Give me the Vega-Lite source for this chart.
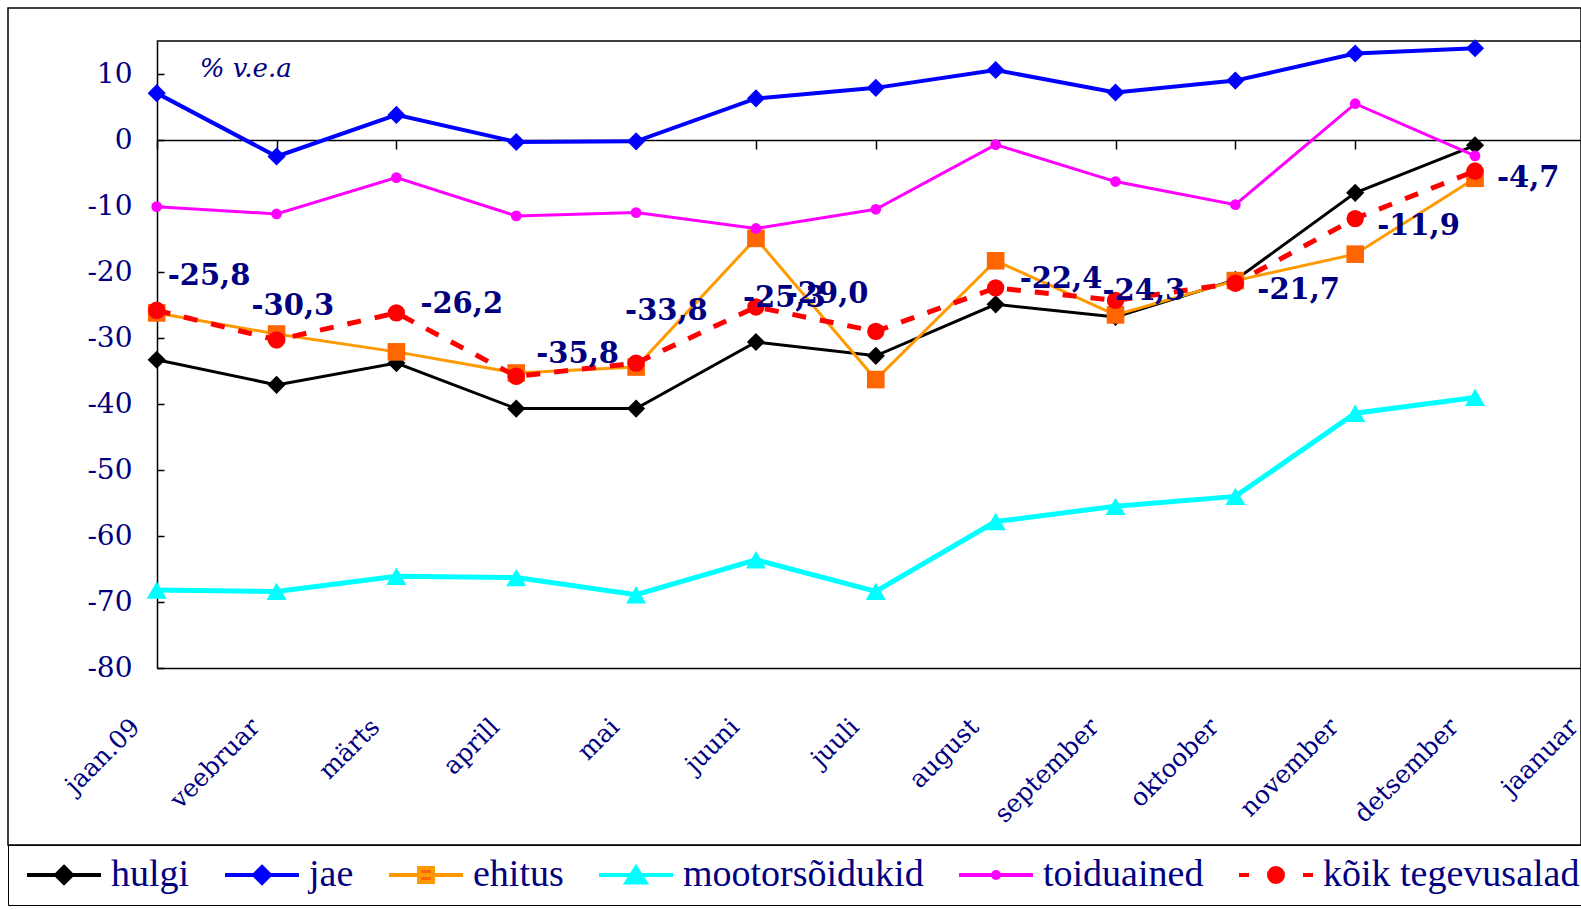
{
  "$schema": "https://vega.github.io/schema/vega-lite/v6.json",
  "usermeta": {"embedOptions": {"actions": false}},
  "width": 1573,
  "height": 837,
  "autosize": {"type": "none"},
  "padding": {"left": 8, "top": 8, "right": 0, "bottom": 65},
  "background": "white",
  "config": {
    "view": {"stroke": "#000000", "strokeWidth": 1.5},
    "locale": {"number": {"decimal": ",", "thousands": " ", "grouping": [3], "currency": ["", " €"], "minus": "-"}},
    "axis": {"grid": false}
  },
  "resolve": {"axis": {"x": "independent", "y": "independent"}},
  "data": {"name": "d"},
  "datasets": {
    "d": [
      {"month": "jaan.09", "series": "hulgi", "value": -33.3},
      {"month": "veebruar", "series": "hulgi", "value": -37.1},
      {"month": "märts", "series": "hulgi", "value": -33.8},
      {"month": "aprill", "series": "hulgi", "value": -40.7},
      {"month": "mai", "series": "hulgi", "value": -40.7},
      {"month": "juuni", "series": "hulgi", "value": -30.6},
      {"month": "juuli", "series": "hulgi", "value": -32.7},
      {"month": "august", "series": "hulgi", "value": -24.9},
      {"month": "september", "series": "hulgi", "value": -26.8},
      {"month": "oktoober", "series": "hulgi", "value": -21.2},
      {"month": "november", "series": "hulgi", "value": -8.0},
      {"month": "detsember", "series": "hulgi", "value": -0.8},
      {"month": "jaan.09", "series": "jae", "value": 7.1},
      {"month": "veebruar", "series": "jae", "value": -2.5},
      {"month": "märts", "series": "jae", "value": 3.8},
      {"month": "aprill", "series": "jae", "value": -0.3},
      {"month": "mai", "series": "jae", "value": -0.2},
      {"month": "juuni", "series": "jae", "value": 6.3},
      {"month": "juuli", "series": "jae", "value": 7.9},
      {"month": "august", "series": "jae", "value": 10.6},
      {"month": "september", "series": "jae", "value": 7.2},
      {"month": "oktoober", "series": "jae", "value": 9.0},
      {"month": "november", "series": "jae", "value": 13.1},
      {"month": "detsember", "series": "jae", "value": 13.9},
      {"month": "jaan.09", "series": "ehitus", "value": -26.2},
      {"month": "veebruar", "series": "ehitus", "value": -29.4},
      {"month": "märts", "series": "ehitus", "value": -32.1},
      {"month": "aprill", "series": "ehitus", "value": -35.3},
      {"month": "mai", "series": "ehitus", "value": -34.4},
      {"month": "juuni", "series": "ehitus", "value": -14.9},
      {"month": "juuli", "series": "ehitus", "value": -36.3},
      {"month": "august", "series": "ehitus", "value": -18.3},
      {"month": "september", "series": "ehitus", "value": -26.5},
      {"month": "oktoober", "series": "ehitus", "value": -21.3},
      {"month": "november", "series": "ehitus", "value": -17.3},
      {"month": "detsember", "series": "ehitus", "value": -5.8},
      {"month": "jaan.09", "series": "mootorsõidukid", "value": -68.2},
      {"month": "veebruar", "series": "mootorsõidukid", "value": -68.4},
      {"month": "märts", "series": "mootorsõidukid", "value": -66.1},
      {"month": "aprill", "series": "mootorsõidukid", "value": -66.3},
      {"month": "mai", "series": "mootorsõidukid", "value": -68.9},
      {"month": "juuni", "series": "mootorsõidukid", "value": -63.6},
      {"month": "juuli", "series": "mootorsõidukid", "value": -68.4},
      {"month": "august", "series": "mootorsõidukid", "value": -57.8},
      {"month": "september", "series": "mootorsõidukid", "value": -55.5},
      {"month": "oktoober", "series": "mootorsõidukid", "value": -54.0},
      {"month": "november", "series": "mootorsõidukid", "value": -41.4},
      {"month": "detsember", "series": "mootorsõidukid", "value": -39.0},
      {"month": "jaan.09", "series": "toiduained", "value": -10.1},
      {"month": "veebruar", "series": "toiduained", "value": -11.2},
      {"month": "märts", "series": "toiduained", "value": -5.7},
      {"month": "aprill", "series": "toiduained", "value": -11.5},
      {"month": "mai", "series": "toiduained", "value": -11.0},
      {"month": "juuni", "series": "toiduained", "value": -13.4},
      {"month": "juuli", "series": "toiduained", "value": -10.5},
      {"month": "august", "series": "toiduained", "value": -0.7},
      {"month": "september", "series": "toiduained", "value": -6.3},
      {"month": "oktoober", "series": "toiduained", "value": -9.8},
      {"month": "november", "series": "toiduained", "value": 5.5},
      {"month": "detsember", "series": "toiduained", "value": -2.4},
      {"month": "jaan.09", "series": "kõik tegevusalad", "value": -25.8},
      {"month": "veebruar", "series": "kõik tegevusalad", "value": -30.3},
      {"month": "märts", "series": "kõik tegevusalad", "value": -26.2},
      {"month": "aprill", "series": "kõik tegevusalad", "value": -35.8},
      {"month": "mai", "series": "kõik tegevusalad", "value": -33.8},
      {"month": "juuni", "series": "kõik tegevusalad", "value": -25.3},
      {"month": "juuli", "series": "kõik tegevusalad", "value": -29.0},
      {"month": "august", "series": "kõik tegevusalad", "value": -22.4},
      {"month": "september", "series": "kõik tegevusalad", "value": -24.3},
      {"month": "oktoober", "series": "kõik tegevusalad", "value": -21.7},
      {"month": "november", "series": "kõik tegevusalad", "value": -11.9},
      {"month": "detsember", "series": "kõik tegevusalad", "value": -4.7}
    ]
  },
  "layer": [
    {
      "data": {"values": [{}]},
      "mark": {"type": "rule", "color": "#000000", "strokeWidth": 1.5},
      "encoding": {
        "x": {"datum": "jaan.09", "type": "ordinal",
          "scale": {"type": "point", "domain": ["jaan.09","veebruar","märts","aprill","mai","juuni","juuli","august","september","oktoober","november","detsember","jaanuar"], "range": [148.7, 1586.9], "padding": 0},
          "axis": {"orient": "top", "offset": -132, "labels": false, "domain": true, "domainColor": "#000000", "domainWidth": 1.5, "ticks": true, "tickColor": "#000000", "tickWidth": 1.5, "tickSize": -9, "title": null, "grid": false}},
        "x2": {"datum": "jaanuar"},
        "y": {"datum": 15, "type": "quantitative",
          "scale": {"type": "linear", "domain": [-80, 15], "range": [660, 33], "nice": false, "zero": false},
          "axis": {"orient": "left", "offset": -149, "values": [10, 0, -10, -20, -30, -40, -50, -60, -70, -80], "domain": true, "domainColor": "#000000", "domainWidth": 1.5, "ticks": true, "tickColor": "#000000", "tickWidth": 1.5, "tickSize": -7, "labels": true, "labelPadding": 32, "labelFont": "DejaVu Serif", "labelFontSize": 28, "labelColor": "#000080", "title": null, "grid": false}}
      }
    },
    {
      "transform": [{"filter": "datum.series === 'hulgi'"}],
      "mark": {"type": "line", "color": "#000000", "strokeWidth": 3, "point": {"filled": true, "shape": "diamond", "size": 330, "color": "#000000", "opacity": 1}},
      "encoding": {
        "x": {"field": "month", "type": "ordinal",
          "sort": ["jaan.09","veebruar","märts","aprill","mai","juuni","juuli","august","september","oktoober","november","detsember","jaanuar"],
          "axis": {"orient": "bottom", "offset": -177, "domain": true, "domainColor": "#000000", "domainWidth": 1.5, "ticks": false, "labelAngle": -45, "labelFont": "DejaVu Serif", "labelFontSize": 25, "labelColor": "#000080", "labelPadding": 46, "labelOffset": -30, "title": null, "grid": false}},
        "y": {"field": "value", "type": "quantitative", "axis": null}
      }
    },
    {
      "transform": [{"filter": "datum.series === 'jae'"}],
      "mark": {"type": "line", "color": "#0000FF", "strokeWidth": 4, "point": {"filled": true, "shape": "diamond", "size": 330, "color": "#0000FF", "opacity": 1}},
      "encoding": {
        "x": {"field": "month", "type": "ordinal", "sort": ["jaan.09","veebruar","märts","aprill","mai","juuni","juuli","august","september","oktoober","november","detsember","jaanuar"], "axis": null},
        "y": {"field": "value", "type": "quantitative", "axis": null}
      }
    },
    {
      "transform": [{"filter": "datum.series === 'ehitus'"}],
      "mark": {"type": "line", "color": "#FF9900", "strokeWidth": 3, "point": {"filled": true, "shape": "square", "size": 310, "color": "#FF6600", "opacity": 1}},
      "encoding": {
        "x": {"field": "month", "type": "ordinal", "sort": ["jaan.09","veebruar","märts","aprill","mai","juuni","juuli","august","september","oktoober","november","detsember","jaanuar"], "axis": null},
        "y": {"field": "value", "type": "quantitative", "axis": null}
      }
    },
    {
      "transform": [{"filter": "datum.series === 'mootorsõidukid'"}],
      "mark": {"type": "line", "color": "#00FFFF", "strokeWidth": 5, "point": {"filled": true, "shape": "triangle-up", "size": 400, "color": "#00FFFF", "opacity": 1}},
      "encoding": {
        "x": {"field": "month", "type": "ordinal", "sort": ["jaan.09","veebruar","märts","aprill","mai","juuni","juuli","august","september","oktoober","november","detsember","jaanuar"], "axis": null},
        "y": {"field": "value", "type": "quantitative", "axis": null}
      }
    },
    {
      "transform": [{"filter": "datum.series === 'toiduained'"}],
      "mark": {"type": "line", "color": "#FF00FF", "strokeWidth": 3, "point": {"filled": true, "shape": "circle", "size": 115, "color": "#FF00FF", "opacity": 1}},
      "encoding": {
        "x": {"field": "month", "type": "ordinal", "sort": ["jaan.09","veebruar","märts","aprill","mai","juuni","juuli","august","september","oktoober","november","detsember","jaanuar"], "axis": null},
        "y": {"field": "value", "type": "quantitative", "axis": null}
      }
    },
    {
      "transform": [{"filter": "datum.series === 'kõik tegevusalad'"}],
      "mark": {"type": "line", "color": "#FF0000", "strokeWidth": 5, "strokeDash": [14, 14], "point": {"filled": true, "shape": "circle", "size": 300, "color": "#FF0000", "opacity": 1}},
      "encoding": {
        "x": {"field": "month", "type": "ordinal", "sort": ["jaan.09","veebruar","märts","aprill","mai","juuni","juuli","august","september","oktoober","november","detsember","jaanuar"], "axis": null},
        "y": {"field": "value", "type": "quantitative", "axis": null}
      }
    },
    {
      "data": {"values": [{}]},
      "mark": {"type": "text", "text": "% v.e.a", "font": "DejaVu Serif", "fontStyle": "italic", "fontSize": 26, "color": "#000080", "align": "left", "baseline": "alphabetic", "dx": 43},
      "encoding": {
        "x": {"datum": "jaan.09", "type": "ordinal", "axis": null},
        "y": {"datum": 9.6, "type": "quantitative", "axis": null}
      }
    },
    {
      "transform": [{"filter": "datum.series === 'kõik tegevusalad' && indexof(['oktoober','november','detsember'], datum.month) >= 0"}],
      "mark": {"type": "text", "font": "DejaVu Serif", "fontWeight": "bold", "fontSize": 29, "color": "#000080", "align": "left", "baseline": "alphabetic", "dx": 22, "dy": 16},
      "encoding": {"x": {"field": "month", "type": "ordinal", "axis": null}, "y": {"field": "value", "type": "quantitative", "axis": null}, "text": {"field": "value", "type": "quantitative", "format": ".1f"}}
    },
    {
      "transform": [{"filter": "datum.series === 'kõik tegevusalad' && indexof(['märts','august'], datum.month) >= 0"}],
      "mark": {"type": "text", "font": "DejaVu Serif", "fontWeight": "bold", "fontSize": 29, "color": "#000080", "align": "left", "baseline": "alphabetic", "dx": 24, "dy": 0},
      "encoding": {"x": {"field": "month", "type": "ordinal", "axis": null}, "y": {"field": "value", "type": "quantitative", "axis": null}, "text": {"field": "value", "type": "quantitative", "format": ".1f"}}
    },
    {
      "transform": [{"filter": "datum.series === 'kõik tegevusalad' && datum.month === 'aprill'"}],
      "mark": {"type": "text", "font": "DejaVu Serif", "fontWeight": "bold", "fontSize": 29, "color": "#000080", "align": "left", "baseline": "alphabetic", "dx": 20, "dy": -13},
      "encoding": {"x": {"field": "month", "type": "ordinal", "axis": null}, "y": {"field": "value", "type": "quantitative", "axis": null}, "text": {"field": "value", "type": "quantitative", "format": ".1f"}}
    },
    {
      "transform": [{"filter": "datum.series === 'kõik tegevusalad' && datum.month === 'jaan.09'"}],
      "mark": {"type": "text", "font": "DejaVu Serif", "fontWeight": "bold", "fontSize": 29, "color": "#000080", "align": "left", "baseline": "alphabetic", "dx": 11, "dy": -25},
      "encoding": {"x": {"field": "month", "type": "ordinal", "axis": null}, "y": {"field": "value", "type": "quantitative", "axis": null}, "text": {"field": "value", "type": "quantitative", "format": ".1f"}}
    },
    {
      "transform": [{"filter": "datum.series === 'kõik tegevusalad' && datum.month === 'veebruar'"}],
      "mark": {"type": "text", "font": "DejaVu Serif", "fontWeight": "bold", "fontSize": 29, "color": "#000080", "align": "left", "baseline": "alphabetic", "dx": -25, "dy": -25},
      "encoding": {"x": {"field": "month", "type": "ordinal", "axis": null}, "y": {"field": "value", "type": "quantitative", "axis": null}, "text": {"field": "value", "type": "quantitative", "format": ".1f"}}
    },
    {
      "transform": [{"filter": "datum.series === 'kõik tegevusalad' && datum.month === 'mai'"}],
      "mark": {"type": "text", "font": "DejaVu Serif", "fontWeight": "bold", "fontSize": 29, "color": "#000080", "align": "left", "baseline": "alphabetic", "dx": -11, "dy": -43},
      "encoding": {"x": {"field": "month", "type": "ordinal", "axis": null}, "y": {"field": "value", "type": "quantitative", "axis": null}, "text": {"field": "value", "type": "quantitative", "format": ".1f"}}
    },
    {
      "transform": [{"filter": "datum.series === 'kõik tegevusalad' && indexof(['juuni','september'], datum.month) >= 0"}],
      "mark": {"type": "text", "font": "DejaVu Serif", "fontWeight": "bold", "fontSize": 29, "color": "#000080", "align": "left", "baseline": "alphabetic", "dx": -13, "dy": 0},
      "encoding": {"x": {"field": "month", "type": "ordinal", "axis": null}, "y": {"field": "value", "type": "quantitative", "axis": null}, "text": {"field": "value", "type": "quantitative", "format": ".1f"}}
    },
    {
      "transform": [{"filter": "datum.series === 'kõik tegevusalad' && datum.month === 'juuli'"}],
      "mark": {"type": "text", "font": "DejaVu Serif", "fontWeight": "bold", "fontSize": 29, "color": "#000080", "align": "left", "baseline": "alphabetic", "dx": -90, "dy": -28},
      "encoding": {"x": {"field": "month", "type": "ordinal", "axis": null}, "y": {"field": "value", "type": "quantitative", "axis": null}, "text": {"field": "value", "type": "quantitative", "format": ".1f"}}
    },
    {
      "transform": [{"filter": "false"}],
      "mark": {"type": "point", "filled": true, "size": 400, "strokeWidth": 4, "opacity": 1},
      "encoding": {
        "x": {"field": "month", "type": "ordinal", "axis": null},
        "y": {"field": "value", "type": "quantitative", "axis": null},
        "color": {"field": "series", "type": "nominal",
          "scale": {"domain": ["hulgi", "jae", "ehitus", "mootorsõidukid", "toiduained", "kõik tegevusalad"], "range": ["#000000", "#0000FF", "#FF6600", "#00FFFF", "#FF00FF", "#FF0000"]},
          "legend": {"title": null, "orient": "none", "legendX": 0, "legendY": 837, "direction": "horizontal", "strokeColor": "#000000", "padding": 11, "labelFont": "Liberation Serif", "labelFontSize": 38, "labelColor": "#000080", "labelOffset": 54, "labelLimit": 400, "columnPadding": 27, "symbolSize": 400, "symbolStrokeWidth": 4, "symbolOpacity": 1}},
        "stroke": {"field": "series", "type": "nominal",
          "scale": {"domain": ["hulgi", "jae", "ehitus", "mootorsõidukid", "toiduained", "kõik tegevusalad"], "range": ["#000000", "#0000FF", "#FF9900", "#00FFFF", "#FF00FF", "#FF0000"]}},
        "shape": {"field": "series", "type": "nominal",
          "scale": {"domain": ["hulgi", "jae", "ehitus", "mootorsõidukid", "toiduained", "kõik tegevusalad"], "range": [
            "M-1.1,0L6.3,0M2.6,-0.8L3.4,0L2.6,0.8L1.8,0Z",
            "M-1.1,0L6.3,0M2.6,-0.8L3.4,0L2.6,0.8L1.8,0Z",
            "M-1.1,0L6.3,0M1.9,-0.7L3.3,-0.7L3.3,0.7L1.9,0.7Z",
            "M-1.1,0L6.3,0M2.6,-0.75L3.55,0.75L1.65,0.75Z",
            "M-1.1,0L6.3,0M2.3,0A0.3,0.3,0,1,1,2.9,0A0.3,0.3,0,1,1,2.3,0Z",
            "M-1.1,0L-0.1,0M5.3,0L6.3,0M1.9,0A0.7,0.7,0,1,1,3.3,0A0.7,0.7,0,1,1,1.9,0Z"
          ]}}
      }
    }
  ]
}
